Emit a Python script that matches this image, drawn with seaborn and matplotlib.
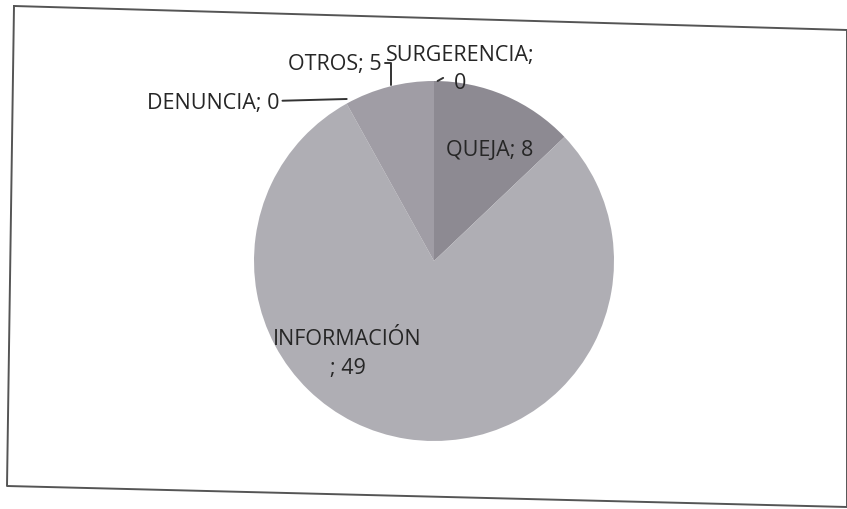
import matplotlib
matplotlib.use("Agg")
import matplotlib.pyplot as plt
from matplotlib.lines import Line2D
import seaborn as sns

# data
categories = ["QUEJA", "INFORMACIÓN", "DENUNCIA", "OTROS", "SURGERENCIA"]
values = [8, 49, 0, 5, 0]
slice_colors = ["#8d8a92", "#afaeb4", "#a6a5ab", "#a09da5", "#9a979f"]

sns.set_theme(style="white")
plt.rcParams["font.family"] = ["Open Sans", "DejaVu Sans"]

fig = plt.figure(figsize=(8.47, 5.10), dpi=100)
fig.patch.set_facecolor("white")

# pie axes: centre ~ (434, 262) px, radius ~180 px
W, H = 847, 510
cx, cy, r = 434, 262, 180
ax = fig.add_axes([(cx - r) / W, (H - cy - r) / H, 2 * r / W, 2 * r / H])
wedges, _ = ax.pie(values, colors=slice_colors, startangle=90, counterclock=False,
                   radius=1, wedgeprops=dict(linewidth=0))
ax.set_xlim(-1, 1)
ax.set_ylim(-1, 1)
ax.set_aspect("equal")
ax.axis("off")

labels = [f"{c}; {v}" for c, v in zip(categories, values)]
labels[1] = "INFORMACIÓN\n; 49"
labels[4] = "SURGERENCIA;\n0"

fs = 15.5
tc = "#262626"
# label placement (axes data units)
ax.text(0.31, 0.62, labels[0], ha="center", va="center", fontsize=fs, color=tc)
ax.text(-0.48, -0.51, labels[1], ha="center", va="center", fontsize=fs, color=tc,
        linespacing=1.5)
ax.annotate(labels[2], xy=(-0.485, 0.9), xytext=(-0.86, 0.88),
            ha="right", va="center", fontsize=fs, color=tc, annotation_clip=False,
            arrowprops=dict(arrowstyle="-", color="#333333", lw=1.4, shrinkA=0, shrinkB=0))
ax.annotate(labels[3], xy=(-0.24, 0.98), xytext=(-0.29, 1.1),
            ha="right", va="center", fontsize=fs, color=tc, annotation_clip=False,
            arrowprops=dict(arrowstyle="-", color="#333333", lw=1.4, shrinkA=0, shrinkB=0,
                            connectionstyle="angle,angleA=0,angleB=90,rad=0"))
ax.annotate(labels[4], xy=(0.02, 1.0), xytext=(0.145, 1.07),
            ha="center", va="center", fontsize=fs, color=tc, annotation_clip=False,
            linespacing=1.4,
            arrowprops=dict(arrowstyle="-", color="#333333", lw=1.4, shrinkA=14, shrinkB=0))

# skewed border of the scanned chart box
def px(x, y):
    return x / W, 1 - y / H

corners = [px(14, 7), px(847, 31), px(847, 508), px(7, 487), px(14, 7)]
fig.add_artist(Line2D([p[0] for p in corners], [p[1] for p in corners],
                      transform=fig.transFigure, color="#555555", lw=1.4))

fig.savefig("out.png", dpi=100, facecolor="white")
